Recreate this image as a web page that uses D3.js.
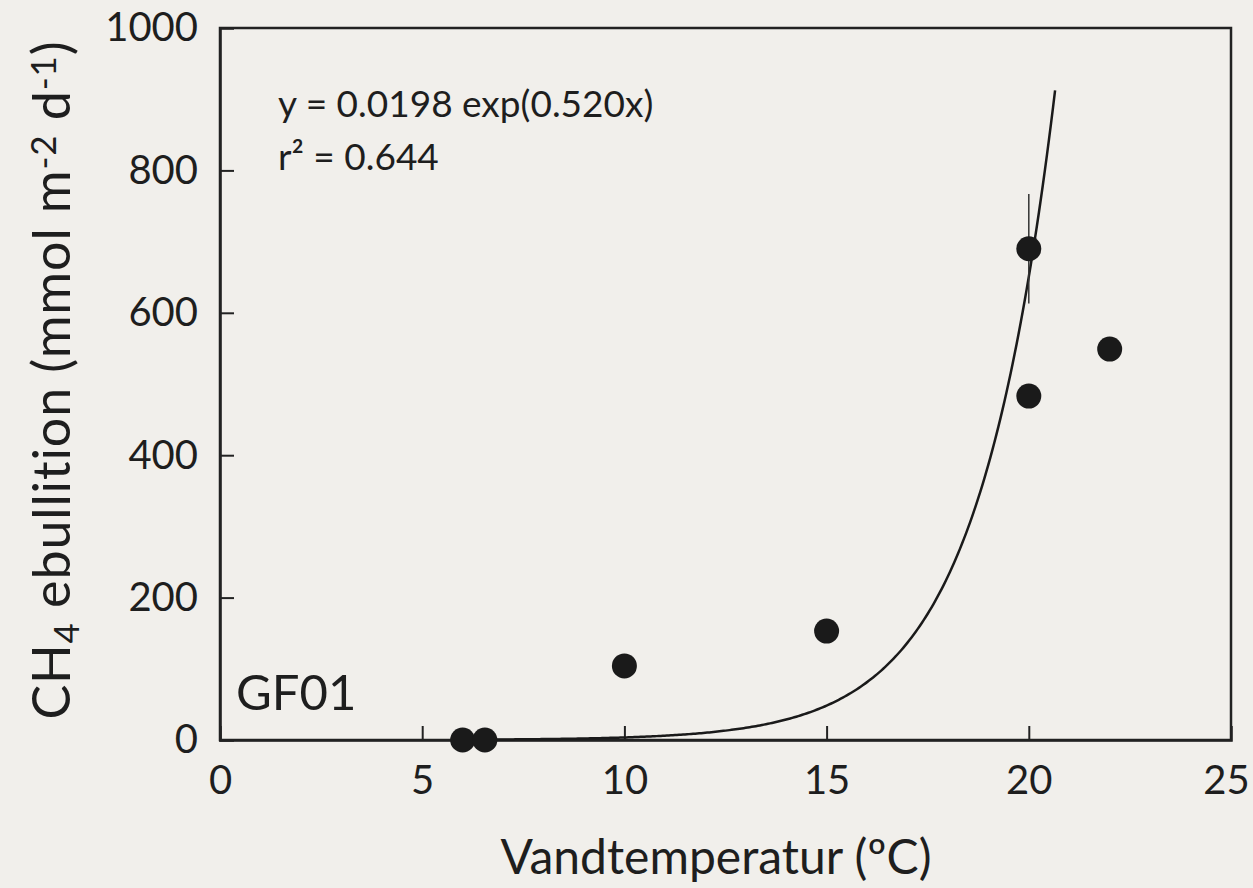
<!DOCTYPE html>
<html><head><meta charset="utf-8">
<script src="https://cdn.jsdelivr.net/npm/d3@7"></script>
<style>
html,body{margin:0;padding:0;background:#f1efeb;}
svg{display:block;}
text{font-family:Lato,"Open Sans",sans-serif;fill:#1e1e1e;}
</style></head>
<body>
<script>
// Data
const tempValues = [6.0, 6.55, 10.0, 15.0, 20.0, 20.0, 22.0];
const fluxValues = [0, 0, 104, 153, 690, 483, 549];
const errorTemp = [20.0];
const errorLow = [613];
const errorHigh = [767];
const xTicks = [0, 5, 10, 15, 20, 25];
const yTicks = [0, 200, 400, 600, 800, 1000];
const fitA = 0.0198, fitB = 0.520;
const fitRange = [6.0, 20.67];
const eqLabel = "y = 0.0198 exp(0.520x)";
const r2Label = "r² = 0.644";
const siteLabel = "GF01";

const W = 1253, H = 888;
const svg = d3.select("body").append("svg").attr("width", W).attr("height", H);
svg.append("rect").attr("width", W).attr("height", H).attr("fill", "#f1efeb");

const x = d3.scaleLinear().domain([0, 25]).range([220, 1231]);
const y = d3.scaleLinear().domain([0, 1000]).range([740, 28]);

const g = svg.append("g");
// frame
g.append("rect").attr("x", 220).attr("y", 28).attr("width", 1011).attr("height", 712)
  .attr("fill", "none").attr("stroke", "#222").attr("stroke-width", 2.5);

// axes
const xAxis = g.append("g").attr("transform", "translate(0,740)")
  .call(d3.axisBottom(x).tickValues(xTicks).tickSize(-14).tickPadding(26).tickFormat(d3.format("d")));
const yAxis = g.append("g").attr("transform", "translate(220,0)")
  .call(d3.axisLeft(y).tickValues(yTicks).tickSize(-14).tickPadding(22).tickFormat(d3.format("d")));
[xAxis, yAxis].forEach(a => {
  a.select(".domain").attr("stroke", "#222").attr("stroke-width", 2.5);
  a.selectAll(".tick line").attr("stroke", "#222").attr("stroke-width", 2);
  a.selectAll(".tick text").attr("font-size", 40).attr("font-family", "Lato").attr("fill", "#1e1e1e");
});
xAxis.selectAll(".tick text").attr("dy", "0.71em");
xAxis.selectAll(".tick text").filter(d => d === 25).attr("dx", -5);
// hide ticks at ends (frame corners)
xAxis.selectAll(".tick line").filter(d => d === 0 || d === 25).remove();
yAxis.selectAll(".tick line").filter(d => d === 0 || d === 1000).remove();

// fit curve
const fitPts = d3.range(fitRange[0], fitRange[1] + 0.001, 0.05).map(t => [t, fitA * Math.exp(fitB * t)]);
g.append("path").datum(fitPts)
  .attr("d", d3.line().x(d => x(d[0])).y(d => y(d[1])))
  .attr("fill", "none").attr("stroke", "#1a1a1a").attr("stroke-width", 2.5);

// error bar
g.selectAll(".err").data(errorTemp).join("line")
  .attr("x1", d => x(d)).attr("x2", d => x(d))
  .attr("y1", (d, i) => y(errorLow[i])).attr("y2", (d, i) => y(errorHigh[i]))
  .attr("stroke", "#333").attr("stroke-width", 1.5);

// points
g.selectAll(".pt").data(tempValues).join("circle")
  .attr("cx", d => x(d)).attr("cy", (d, i) => y(fluxValues[i]))
  .attr("r", 12.5).attr("fill", "#1a1a1a");

// annotation
g.append("text").attr("x", 278).attr("y", 117).attr("font-size", 37).attr("fill", "#333").text(eqLabel);
g.append("text").attr("x", 278).attr("y", 170).attr("font-size", 37).attr("fill", "#333").text(r2Label);
g.append("text").attr("x", 236).attr("y", 710).attr("font-size", 49).attr("fill", "#333").text(siteLabel);

// x axis title
svg.append("text").attr("x", 716).attr("y", 874).attr("text-anchor", "middle")
  .attr("font-size", 48).text("Vandtemperatur (ºC)");

// y axis title
const yt = svg.append("text").attr("transform", "translate(70,380) rotate(-90)")
  .attr("text-anchor", "middle").attr("font-size", 52);
yt.append("tspan").text("CH");
yt.append("tspan").attr("font-size", 35).attr("dy", 9).text("4");
yt.append("tspan").attr("dy", -9).text(" ebullition (mmol m");
yt.append("tspan").attr("font-size", 35).attr("dy", -14).text("-2");
yt.append("tspan").attr("dy", 14).text(" d");
yt.append("tspan").attr("font-size", 35).attr("dy", -14).text("-1");
yt.append("tspan").attr("dy", 14).text(")");
// fit the title to the reference's span
const len = yt.node().getComputedTextLength();
const target = 680;
if (len > 0) yt.attr("letter-spacing", ((target - len) / yt.text().length).toFixed(2));
</script>
</body></html>
